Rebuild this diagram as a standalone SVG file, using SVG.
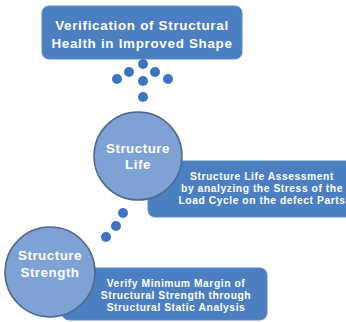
<svg xmlns="http://www.w3.org/2000/svg" width="346" height="322" viewBox="0 0 346 322">
<defs>
<style>
.box{fill:#4b7fc2;stroke:#5a8acb;stroke-width:1}
.circ{fill:#7ea2d3;stroke:#51698f;stroke-width:1.5}
.dot{fill:#3c74c0}
.t{font-family:"Liberation Sans",Arial,sans-serif;font-weight:bold;fill:#ffffff;text-anchor:middle}
.big{font-size:13.4px;letter-spacing:0.7px}
.mid{font-size:13.4px;letter-spacing:0.5px}
.sm{font-size:10.3px;letter-spacing:0.55px}
</style>
</defs>
<rect width="346" height="322" fill="#ffffff"/>
<g id="top">
<rect class="box" x="42" y="6" width="200" height="53" rx="7"/>
<text class="t big" x="142" y="30">Verification of Structural</text>
<text class="t big" x="142" y="48">Health in Improved Shape</text>
</g>
<g id="connectors">
<circle class="dot" cx="143" cy="64" r="5"/>
<circle class="dot" cx="129" cy="72" r="5"/>
<circle class="dot" cx="155" cy="72" r="5"/>
<circle class="dot" cx="117" cy="79" r="5"/>
<circle class="dot" cx="143" cy="81" r="5"/>
<circle class="dot" cx="168" cy="79" r="5"/>
<circle class="dot" cx="143" cy="97" r="5"/>
<circle class="dot" cx="123" cy="213" r="5"/>
<circle class="dot" cx="116" cy="226" r="5"/>
<circle class="dot" cx="106" cy="237" r="5"/>
</g>
<g id="life-desc">
<rect class="box" x="148" y="161" width="210" height="56" rx="7"/>
<text class="t sm" x="262" y="180">Structure Life Assessment</text>
<text class="t sm" x="262" y="192">by analyzing the Stress of the</text>
<text class="t sm" x="262" y="204">Load Cycle on the defect Parts</text>
</g>
<g id="life">
<circle class="circ" cx="138" cy="156" r="44"/>
<text class="t mid" x="138" y="153">Structure</text>
<text class="t mid" x="138" y="169">Life</text>
</g>
<g id="strength-desc">
<rect class="box" x="62" y="268" width="205" height="52" rx="7"/>
<text class="t sm" x="176" y="287">Verify Minimum Margin of</text>
<text class="t sm" x="176" y="299">Structural Strength through</text>
<text class="t sm" x="176" y="311">Structural Static Analysis</text>
</g>
<g id="strength">
<circle class="circ" cx="50" cy="272" r="45"/>
<text class="t mid" x="50" y="260">Structure</text>
<text class="t mid" x="50" y="277">Strength</text>
</g>
</svg>
